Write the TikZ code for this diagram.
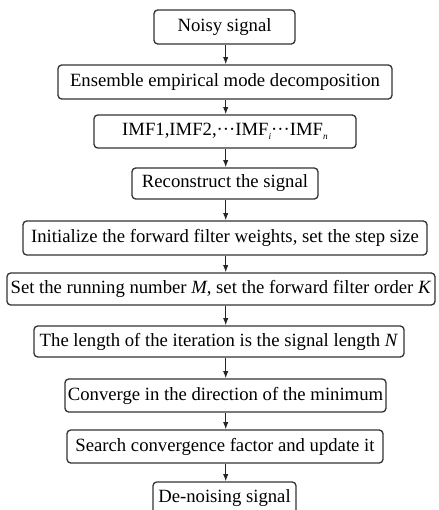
\documentclass[tikz,border=0pt]{standalone}
\usepackage{fontspec}
\setmainfont{Liberation Serif}
\usetikzlibrary{arrows.meta}

\def\pxlen{0.535pt}
\newcommand\lowsub[1]{\raisebox{-0.45ex}{\fontsize{5pt}{6pt}\selectfont\textit{#1}}}

\begin{document}
\begin{tikzpicture}[x=0.535pt,y=-0.535pt,
    box/.style={draw=black!80,line width=0.7pt,rounded corners=2pt,
      inner sep=0pt,font=\fontsize{10pt}{12pt}\selectfont},
    arr/.style={draw=black!85,line width=0.55pt,-{Latex[length=3.8pt,width=2.8pt]}}]
  \useasboundingbox (0,0) rectangle (438,510);

  % flow boxes, top to bottom
  \node[box,minimum width=141*\pxlen,minimum height=34*\pxlen] (noisy) at (224.5,27) {Noisy signal};
  \node[box,minimum width=334*\pxlen,minimum height=34*\pxlen] (eemd) at (225,82) {Ensemble empirical mode decomposition};
  \node[box,minimum width=262*\pxlen,minimum height=33*\pxlen] (imf) at (225,131.5)
    {IMF1,IMF2,\textperiodcentered\textperiodcentered\textperiodcentered IMF\lowsub{i}\textperiodcentered\textperiodcentered\textperiodcentered IMF\lowsub{n}};
  \node[box,minimum width=186*\pxlen,minimum height=31*\pxlen] (recon) at (225,183.5) {Reconstruct the signal};
  \node[box,minimum width=404*\pxlen,minimum height=34*\pxlen] (init) at (225,238) {Initialize the forward filter weights, set the step size};
  \node[box,minimum width=428*\pxlen,minimum height=32*\pxlen] (setm) at (221,289) {Set the running number \textit{M}, set the forward filter order \textit{K}};
  \node[box,minimum width=370*\pxlen,minimum height=31*\pxlen] (iter) at (219,341.5) {The length of the iteration is the signal length \textit{N}};
  \node[box,minimum width=321*\pxlen,minimum height=33*\pxlen] (conv) at (225.5,395.5) {Converge in the direction of the minimum};
  \node[box,minimum width=316*\pxlen,minimum height=33*\pxlen] (search) at (225,446.5) {Search convergence factor and update it};
  \node[box,minimum width=143*\pxlen,minimum height=33*\pxlen] (denoise) at (224.5,498.5) {De-noising signal};

  % vertical connectors on one spine
  \coordinate (spine) at (225.7,0);
  \foreach \a/\b in {noisy/eemd,eemd/imf,imf/recon,recon/init,init/setm,
      setm/iter,iter/conv,conv/search,search/denoise}
    \draw[arr] (\a.south -| spine) -- (\b.north -| spine);
\end{tikzpicture}
\end{document}
